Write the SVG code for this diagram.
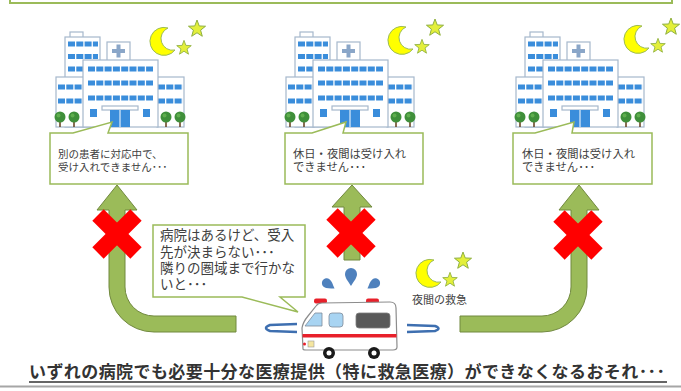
<svg xmlns="http://www.w3.org/2000/svg" xmlns:xlink="http://www.w3.org/1999/xlink" width="681" height="391" viewBox="0 0 681 391">
  <style>
    .jp { font-family: "Noto Sans CJK JP", "Noto Sans", sans-serif; fill: #404040; }
    .box { fill: #ffffff; stroke: #9bbb59; stroke-width: 1.5; stroke-linejoin: miter; }
    .arrow { fill: #9bbb59; stroke: #71893f; stroke-width: 1; }
    .cross { stroke: #ff0000; stroke-width: 16; stroke-linecap: butt; }
    .wall { fill: #ffffff; stroke: #a6b8cc; stroke-width: 1.2; }
    .win { stroke: #3a8ddb; stroke-width: 5; stroke-dasharray: 7 1.3; }
    .star { fill: #e3ef3a; stroke: #8fb040; stroke-width: 1; }
  </style>
  <defs>
    <path id="star" d="M0,-9 L2.22,-3.06 L8.56,-2.78 L3.59,1.17 L5.29,7.28 L0,3.78 L-5.29,7.28 L-3.59,1.17 L-8.56,-2.78 L-2.22,-3.06 Z"/>
    <!-- crescent moon with two stars -->
    <g id="night">
      <path d="M168,28 A14,14 0 1,0 175,50 A11.6,11.6 0 0,1 168,28 Z" fill="#ffff00" stroke="#9bbb59" stroke-width="1"/>
      <use xlink:href="#star" class="star" transform="translate(197,29)"/>
      <use xlink:href="#star" class="star" transform="translate(184,48) scale(0.85)"/>
    </g>
    <g id="tree">
      <rect x="-0.8" y="0" width="1.6" height="9" fill="#6b4a2a"/>
      <circle cx="0" cy="-1" r="5.5" fill="#3f8f3a"/>
      <circle cx="-1.5" cy="-2.5" r="2" fill="#5fae4e"/>
    </g>
    <!-- hospital building -->
    <g id="hospital">
      <rect class="wall" x="70" y="32" width="13" height="6"/>
      <rect class="wall" x="65" y="37" width="35" height="90"/>
      <line class="win" x1="68" y1="44" x2="98" y2="44"/>
      <line class="win" x1="68" y1="56.5" x2="98" y2="56.5"/>
      <line class="win" x1="68" y1="69" x2="98" y2="69"/>
      <rect class="wall" x="56" y="77" width="28" height="50"/>
      <line class="win" x1="58" y1="87" x2="83" y2="87"/>
      <line class="win" x1="58" y1="101" x2="83" y2="101"/>
      <rect class="wall" x="157" y="77" width="27" height="50"/>
      <line class="win" x1="158" y1="87" x2="183" y2="87"/>
      <line class="win" x1="158" y1="101" x2="183" y2="101"/>
      <rect class="wall" x="107" y="42" width="23" height="19"/>
      <rect x="112" y="49" width="13" height="4" fill="#8aa6c8"/>
      <rect x="116.5" y="44.5" width="4" height="13" fill="#8aa6c8"/>
      <rect class="wall" x="83" y="60" width="75" height="67"/>
      <line class="win" x1="88" y1="69" x2="153" y2="69"/>
      <line class="win" x1="88" y1="83" x2="153" y2="83"/>
      <line class="win" x1="88" y1="98" x2="153" y2="98"/>
      <rect x="90" y="109" width="7" height="8" fill="#3a8ddb"/>
      <rect x="143" y="109" width="7" height="8" fill="#3a8ddb"/>
      <rect class="wall" x="102" y="106" width="36" height="4"/>
      <rect x="110" y="110" width="20" height="17" fill="#3a8ddb"/>
      <line x1="120" y1="110" x2="120" y2="127" stroke="#ffffff" stroke-width="1"/>
      <use xlink:href="#tree" transform="translate(60,118)"/>
      <use xlink:href="#tree" transform="translate(74,118)"/>
      <use xlink:href="#tree" transform="translate(166,118)"/>
      <use xlink:href="#tree" transform="translate(180,118)"/>
    </g>
    <path id="drop" d="M0,10 C-3,5 -6,2 -6,-2 A6,6 0 0,1 6,-2 C6,2 3,5 0,10 Z" fill="#4f81bd"/>
  </defs>

  <!-- frame edge at the top -->
  <rect x="10" y="-10" width="662" height="13" fill="none" stroke="#9bbb59" stroke-width="2"/>

  <g id="hospital-1">
    <use xlink:href="#hospital"/>
    <use xlink:href="#night"/>
  </g>
  <g id="hospital-2">
    <use xlink:href="#hospital" transform="translate(230,0)"/>
    <use xlink:href="#night" transform="translate(238,-1)"/>
  </g>
  <g id="hospital-3">
    <use xlink:href="#hospital" transform="translate(460,0)"/>
    <use xlink:href="#night" transform="translate(474,-2)"/>
  </g>

  <g id="note-1">
    <path class="box" d="M50,133 L73,133 L112,122 L108,133 L188,133 L188,184 L50,184 Z"/>
    <text class="jp" font-size="10.5" x="58" y="158">別の患者に対応中で、</text>
    <text class="jp" font-size="10.5" x="58" y="171">受け入れできません･･･</text>
  </g>
  <g id="note-2">
    <path class="box" d="M285,133 L312,133 L346,122 L343,133 L423,133 L423,184 L285,184 Z"/>
    <text class="jp" font-size="11.3" x="293" y="158">休日・夜間は受け入れ</text>
    <text class="jp" font-size="11.3" x="293" y="171">できません･･･</text>
  </g>
  <g id="note-3">
    <path class="box" d="M513,133 L535,133 L574,122 L572,133 L652,133 L652,184 L513,184 Z"/>
    <text class="jp" font-size="11.3" x="522" y="158">休日・夜間は受け入れ</text>
    <text class="jp" font-size="11.3" x="522" y="171">できません･･･</text>
  </g>

  <g id="connectors">
    <path class="arrow" d="M117,185 L137,210 L125,210 L125,287 A29,29 0 0,0 154,316 L236,316 L236,332 L154,332 A45,45 0 0,1 109,287 L109,210 L97,210 Z"/>
    <path class="arrow" d="M352,185 L372,207 L360,207 L360,260 L344,260 L344,207 L332,207 Z"/>
    <path class="arrow" d="M579,185 L599,210 L587,210 L587,287 A45,45 0 0,1 542,332 L460,332 L460,316 L542,316 A29,29 0 0,0 571,287 L571,210 L559,210 Z"/>
    <g class="cross">
      <line x1="98" y1="215" x2="136" y2="253"/>
      <line x1="136" y1="215" x2="98" y2="253"/>
      <line x1="332" y1="214" x2="370" y2="252"/>
      <line x1="370" y1="214" x2="332" y2="252"/>
      <line x1="559" y1="216" x2="597" y2="254"/>
      <line x1="597" y1="216" x2="559" y2="254"/>
    </g>
  </g>

  <g id="speech">
    <path class="box" d="M153,225 L305,225 L305,297 L280,297 L298,312 L242,297 L153,297 Z"/>
    <text class="jp" font-size="13.5" x="160" y="240">病院はあるけど、受入</text>
    <text class="jp" font-size="13.5" x="160" y="257">先が決まらない･･･</text>
    <text class="jp" font-size="13.5" x="160" y="273">隣りの圏域まで行かな</text>
    <text class="jp" font-size="13.5" x="160" y="289">いと･･･</text>
  </g>

  <g id="ambulance">
    <use xlink:href="#drop" transform="translate(351,276)"/>
    <use xlink:href="#drop" transform="translate(328,284) rotate(-55) scale(0.8)"/>
    <use xlink:href="#drop" transform="translate(374,284) rotate(55) scale(0.8)"/>
    <path d="M297,324 L270,325 Q262,328 270,331 L297,332" fill="none" stroke="#3e6fb0" stroke-width="2.5"/>
    <path d="M407,325 L435,326 Q442,328.5 435,331 L407,332" fill="none" stroke="#3e6fb0" stroke-width="2.5"/>
    <rect x="314" y="298.5" width="13" height="5" rx="2" fill="#e8202a"/>
    <rect x="366" y="298.5" width="13" height="5" rx="2" fill="#e8202a"/>
    <path d="M303,349 L302,328 Q303,322 308,316 L316,306 Q318,303 322,303 L390,302 Q396,302 396,308 L397,347 Q397,350 393,350 L306,350 Q303,350 303,349 Z" fill="#ffffff" stroke="#8c8c8c" stroke-width="1.2"/>
    <path d="M305,326 L322,326 L322,313 L315,313 Z" fill="#a8d4f2" stroke="#7f8c99" stroke-width="0.8"/>
    <rect x="329" y="313" width="14" height="14" rx="3" fill="#a8d4f2" stroke="#7f8c99" stroke-width="0.8"/>
    <rect x="356" y="313" width="34" height="15" rx="3" fill="#595959" stroke="#7f7f7f" stroke-width="0.8"/>
    <rect x="302.5" y="334" width="94" height="3.5" fill="#e8202a"/>
    <circle cx="304.5" cy="344" r="1.5" fill="#e8202a"/>
    <rect x="308" y="341" width="6" height="6" fill="#f5e6a0" stroke="#999999" stroke-width="0.6"/>
    <circle cx="329" cy="353" r="6" fill="#1a1a1a"/>
    <circle cx="329" cy="353" r="2.5" fill="#ffffff"/>
    <circle cx="374" cy="353" r="6" fill="#1a1a1a"/>
    <circle cx="374" cy="353" r="2.5" fill="#ffffff"/>
  </g>

  <g id="night-call">
    <use xlink:href="#night" transform="translate(266,232)"/>
    <text class="jp" font-size="11" x="412" y="304" fill="#595959">夜間の救急</text>
  </g>

  <g id="headline">
    <text class="jp" font-size="17" font-weight="bold" x="29" y="378" textLength="636" fill="#333333" style="fill:#333333">いずれの病院でも必要十分な医療提供（特に救急医療）ができなくなるおそれ･･･</text>
    <line x1="29" y1="382" x2="667" y2="382" stroke="#333333" stroke-width="1.5"/>
  </g>
  <line x1="0" y1="386.5" x2="681" y2="386.5" stroke="#a6a6a6" stroke-width="2"/>
</svg>
